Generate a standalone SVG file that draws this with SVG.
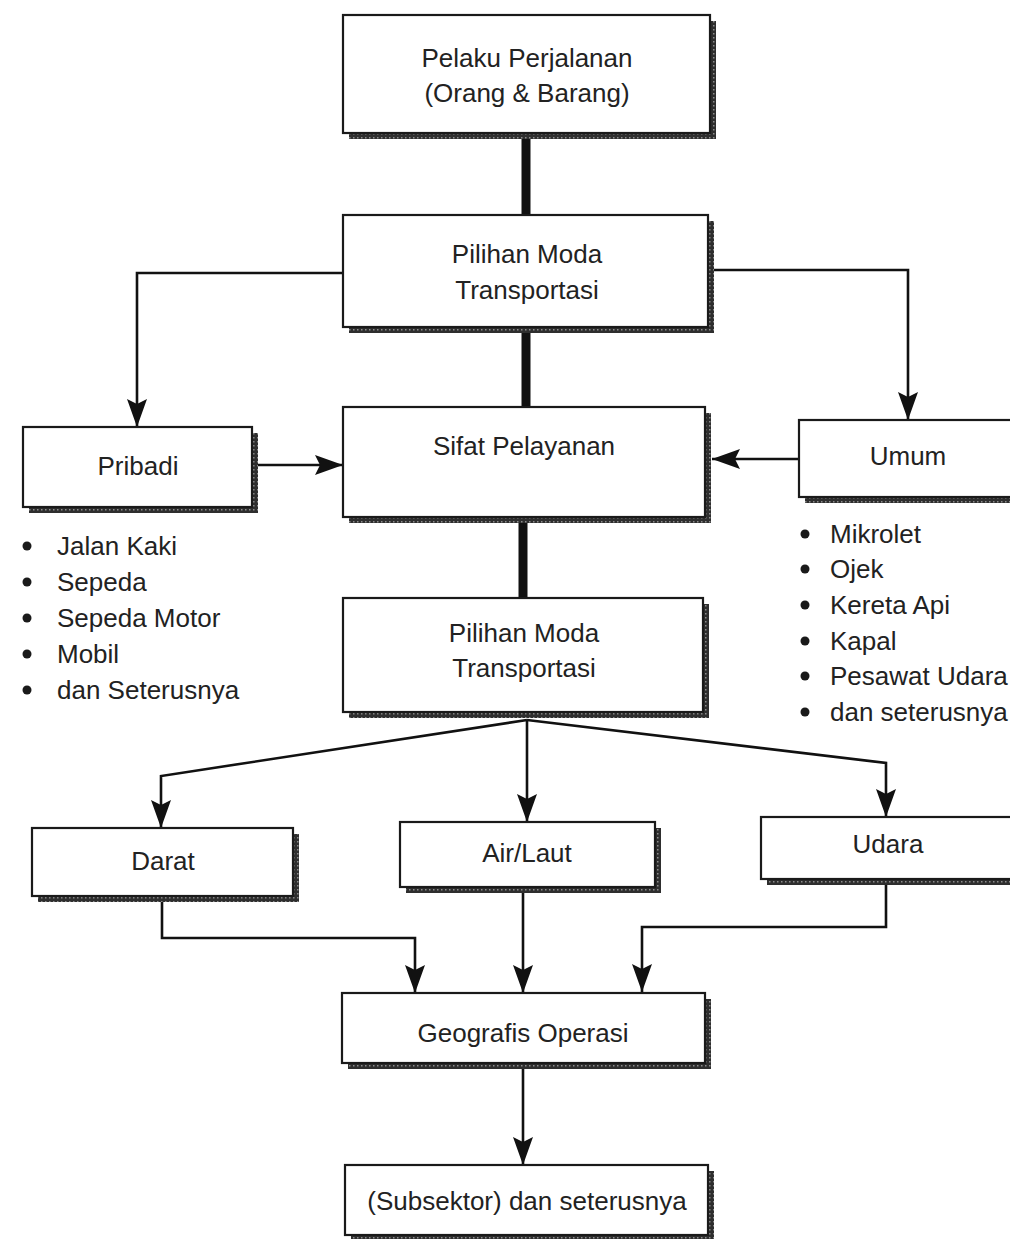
<svg xmlns="http://www.w3.org/2000/svg" width="1010" height="1239" viewBox="0 0 1010 1239">
  <style>
    .box { fill: #fff; stroke: #1a1a1a; stroke-width: 2.2; }
    .shadow { fill: url(#hatch); }
    .label { font-family: "Liberation Sans", Arial, sans-serif; font-size: 26px; fill: #222; text-anchor: middle; }
    .item { font-family: "Liberation Sans", Arial, sans-serif; font-size: 26px; fill: #222; }
    .dot { fill: #1a1a1a; }
    .thick { stroke: #111; stroke-width: 9; fill: none; }
    .thin { stroke: #111; stroke-width: 2.6; fill: none; marker-end: url(#arrow); }
  </style>
  <defs>
    <pattern id="hatch" width="4" height="4" patternUnits="userSpaceOnUse">
      <rect width="4" height="4" fill="#2e2e2e"/>
      <rect x="1" y="1" width="1.5" height="1.5" fill="#8c8c8c"/>
    </pattern>
    <marker id="arrow" viewBox="0 0 28 20" refX="28" refY="10" markerWidth="28" markerHeight="20" markerUnits="userSpaceOnUse" orient="auto">
      <path d="M0,0 L28,10 L0,20 L5,10 Z" fill="#111"/>
    </marker>
  </defs>

  <rect width="1010" height="1239" fill="#fff"/>

  <!-- connectors -->
  <g id="connectors">
    <path class="thick" d="M526,133 V215"/>
    <path class="thick" d="M526,327 V407"/>
    <path class="thick" d="M523,517 V598"/>
    <path class="thin" d="M343,273 H137 V427"/>
    <path class="thin" d="M714,270 H908 V420"/>
    <path class="thin" d="M258,465 H343"/>
    <path class="thin" d="M799,459 H712"/>
    <path class="thin" d="M527,720 L161,776 V828"/>
    <path class="thin" d="M527,720 V822"/>
    <path class="thin" d="M527,720 L886,763 V817"/>
    <path class="thin" d="M162,902 V938 H415 V993"/>
    <path class="thin" d="M523,893 V993"/>
    <path class="thin" d="M886,885 V927 H642 V992"/>
    <path class="thin" d="M523,1069 V1165"/>
  </g>

  <!-- nodes -->
  <g id="pelaku">
    <rect class="shadow" x="349" y="21" width="367" height="118"/>
    <rect class="box" x="343" y="15" width="367" height="118"/>
    <text class="label" x="527" y="67">Pelaku Perjalanan</text>
    <text class="label" x="527" y="102">(Orang &amp; Barang)</text>
  </g>

  <g id="pilihan-moda-1">
    <rect class="shadow" x="349" y="221" width="365" height="112"/>
    <rect class="box" x="343" y="215" width="365" height="112"/>
    <text class="label" x="527" y="263">Pilihan Moda</text>
    <text class="label" x="527" y="299">Transportasi</text>
  </g>

  <g id="pribadi">
    <rect class="shadow" x="29" y="433" width="229" height="80"/>
    <rect class="box" x="23" y="427" width="229" height="80"/>
    <text class="label" x="138" y="475">Pribadi</text>
  </g>

  <g id="sifat-pelayanan">
    <rect class="shadow" x="349" y="413" width="362" height="110"/>
    <rect class="box" x="343" y="407" width="362" height="110"/>
    <text class="label" x="524" y="455">Sifat Pelayanan</text>
  </g>

  <g id="umum">
    <rect class="shadow" x="805" y="426" width="220" height="77"/>
    <rect class="box" x="799" y="420" width="220" height="77"/>
    <text class="label" x="908" y="465">Umum</text>
  </g>

  <g id="list-pribadi">
    <circle class="dot" cx="27" cy="546" r="4.5"/>
    <text class="item" x="57" y="555">Jalan Kaki</text>
    <circle class="dot" cx="27" cy="582" r="4.5"/>
    <text class="item" x="57" y="591">Sepeda</text>
    <circle class="dot" cx="27" cy="618" r="4.5"/>
    <text class="item" x="57" y="627">Sepeda Motor</text>
    <circle class="dot" cx="27" cy="654" r="4.5"/>
    <text class="item" x="57" y="663">Mobil</text>
    <circle class="dot" cx="27" cy="690" r="4.5"/>
    <text class="item" x="57" y="699">dan Seterusnya</text>
  </g>

  <g id="list-umum">
    <circle class="dot" cx="805" cy="534" r="4.5"/>
    <text class="item" x="830" y="543">Mikrolet</text>
    <circle class="dot" cx="805" cy="569" r="4.5"/>
    <text class="item" x="830" y="578">Ojek</text>
    <circle class="dot" cx="805" cy="605" r="4.5"/>
    <text class="item" x="830" y="614">Kereta Api</text>
    <circle class="dot" cx="805" cy="641" r="4.5"/>
    <text class="item" x="830" y="650">Kapal</text>
    <circle class="dot" cx="805" cy="676" r="4.5"/>
    <text class="item" x="830" y="685">Pesawat Udara</text>
    <circle class="dot" cx="805" cy="712" r="4.5"/>
    <text class="item" x="830" y="721">dan seterusnya</text>
  </g>

  <g id="pilihan-moda-2">
    <rect class="shadow" x="349" y="604" width="360" height="114"/>
    <rect class="box" x="343" y="598" width="360" height="114"/>
    <text class="label" x="524" y="642">Pilihan Moda</text>
    <text class="label" x="524" y="677">Transportasi</text>
  </g>

  <g id="darat">
    <rect class="shadow" x="38" y="834" width="261" height="68"/>
    <rect class="box" x="32" y="828" width="261" height="68"/>
    <text class="label" x="163" y="870">Darat</text>
  </g>

  <g id="air-laut">
    <rect class="shadow" x="406" y="828" width="255" height="65"/>
    <rect class="box" x="400" y="822" width="255" height="65"/>
    <text class="label" x="527" y="862">Air/Laut</text>
  </g>

  <g id="udara">
    <rect class="shadow" x="767" y="823" width="260" height="62"/>
    <rect class="box" x="761" y="817" width="260" height="62"/>
    <text class="label" x="888" y="853">Udara</text>
  </g>

  <g id="geografis-operasi">
    <rect class="shadow" x="348" y="999" width="363" height="70"/>
    <rect class="box" x="342" y="993" width="363" height="70"/>
    <text class="label" x="523" y="1042">Geografis Operasi</text>
  </g>

  <g id="subsektor">
    <rect class="shadow" x="351" y="1171" width="363" height="70"/>
    <rect class="box" x="345" y="1165" width="363" height="70"/>
    <text class="label" x="527" y="1210">(Subsektor) dan seterusnya</text>
  </g>
</svg>
